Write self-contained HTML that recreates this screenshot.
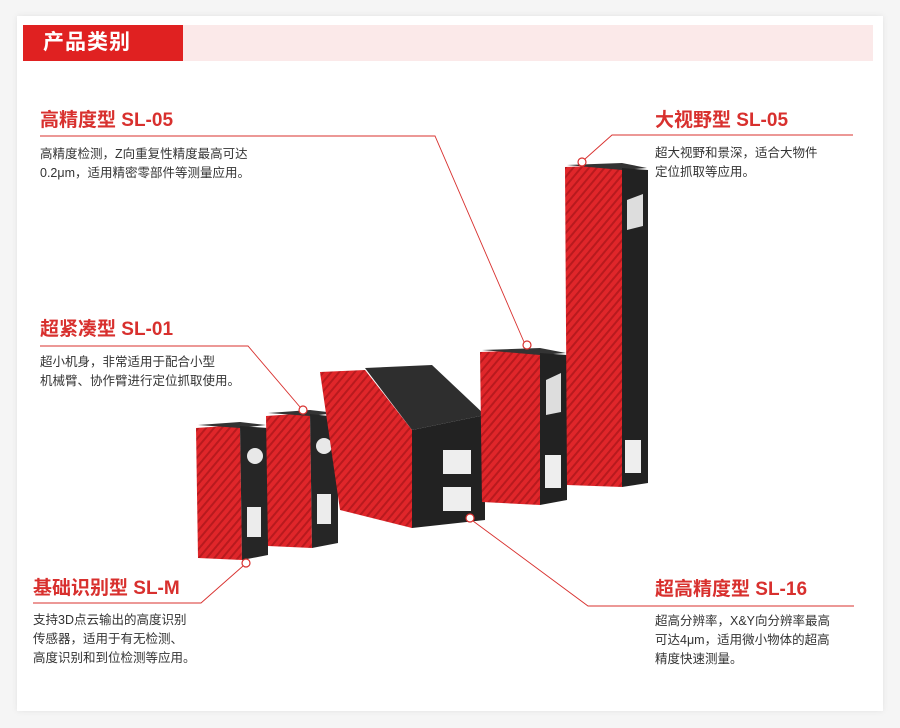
<!DOCTYPE html>
<html><head><meta charset="utf-8"><style>
body{margin:0;width:900px;height:728px;background:#f5f5f5;position:relative;overflow:hidden;font-family:"Liberation Sans","Noto Sans CJK SC",sans-serif}
.card{position:absolute;left:17px;top:16px;width:866px;height:695px;background:#fff;box-shadow:0 0 6px rgba(0,0,0,.08)}
.hdr{position:absolute;left:23px;top:25px;width:850px;height:36px;background:#fbe9e9}
.hdr div{position:absolute;left:0;top:0;width:160px;height:36px;background:#e02121;color:#fff;font-size:21px;font-weight:bold;line-height:36px;padding-left:20px;box-sizing:border-box;letter-spacing:1px}
.t{position:absolute;color:#d8302e;font-size:19px;font-weight:bold;line-height:24px;white-space:nowrap}
.d{position:absolute;color:#333;font-size:12.5px;line-height:19px;white-space:nowrap}
svg{position:absolute;left:0;top:0}
</style></head><body>
<div class="card"></div>
<div class="hdr"><div>产品类别</div></div>
<svg width="900" height="728">
<defs><pattern id="st" width="6" height="6" patternUnits="userSpaceOnUse" patternTransform="rotate(40)"><rect width="6" height="6" fill="#e0262a"/><rect width="2" height="6" fill="#b81a1e"/></pattern></defs>
<!-- device 1 -->
<polygon points="196,428 240,425 242,560 198,558" fill="url(#st)"/>
<polygon points="198,425 240,422 266,425 240,428" fill="#333"/>
<polygon points="240,426 268,428 268,555 242,560" fill="#262626"/>
<circle cx="255" cy="456" r="8" fill="#e8e8e8"/><rect x="247" y="507" width="14" height="30" fill="#ececec"/>
<!-- device 2 -->
<polygon points="266,416 310,413 312,548 268,546" fill="url(#st)"/>
<polygon points="268,413 310,410 336,413 310,416" fill="#333"/>
<polygon points="310,414 338,417 338,543 312,548" fill="#262626"/>
<circle cx="324" cy="446" r="8" fill="#e8e8e8"/><rect x="317" y="494" width="14" height="30" fill="#ececec"/>
<!-- device 3 -->
<polygon points="320,372 365,370 412,430 412,528 340,510" fill="url(#st)"/>
<polygon points="365,368 432,365 485,415 412,430" fill="#2e2e2e"/>
<polygon points="412,430 485,415 485,520 412,528" fill="#222"/>
<rect x="443" y="450" width="28" height="24" fill="#eee"/><rect x="443" y="487" width="28" height="24" fill="#eee"/>
<!-- device 4 -->
<polygon points="480,352 540,350 540,505 482,502" fill="url(#st)"/>
<polygon points="482,350 540,348 566,353 540,355" fill="#333"/>
<polygon points="540,353 567,355 567,500 540,505" fill="#222"/>
<polygon points="546,380 561,373 561,412 546,415" fill="#ddd"/><rect x="545" y="455" width="16" height="33" fill="#eee"/>
<!-- device 5 -->
<polygon points="565,167 622,165 622,487 567,485" fill="url(#st)"/>
<polygon points="567,165 622,163 647,168 622,170" fill="#333"/>
<polygon points="622,168 648,170 648,483 622,487" fill="#222"/>
<polygon points="627,200 643,194 643,226 627,230" fill="#ddd"/><rect x="625" y="440" width="16" height="33" fill="#eee"/>
<!-- connectors -->
<g stroke="#d8302e" stroke-width="0.9" fill="none">
<polyline points="40,136 435,136 524,342"/>
<polyline points="853,135 612,135 585,159"/>
<polyline points="40,346 248,346 300,407"/>
<polyline points="33,603 201,603 243,566"/>
<polyline points="854,606 588,606 473,521"/>
</g>
<g stroke="#d8302e" stroke-width="1.2" fill="#fff">
<circle cx="527" cy="345" r="4"/><circle cx="582" cy="162" r="4"/><circle cx="303" cy="410" r="4"/><circle cx="246" cy="563" r="4"/><circle cx="470" cy="518" r="4"/>
</g>
</svg>
<div class="t" style="left:40px;top:109px">高精度型 SL-05</div>
<div class="d" style="left:40px;top:145px">高精度检测，Z向重复性精度最高可达<br>0.2μm，适用精密零部件等测量应用。</div>
<div class="t" style="left:655px;top:109px">大视野型 SL-05</div>
<div class="d" style="left:655px;top:144px">超大视野和景深，适合大物件<br>定位抓取等应用。</div>
<div class="t" style="left:40px;top:318px">超紧凑型 SL-01</div>
<div class="d" style="left:40px;top:353px">超小机身，非常适用于配合小型<br>机械臂、协作臂进行定位抓取使用。</div>
<div class="t" style="left:33px;top:577px">基础识别型 SL-M</div>
<div class="d" style="left:33px;top:611px">支持3D点云输出的高度识别<br>传感器，适用于有无检测、<br>高度识别和到位检测等应用。</div>
<div class="t" style="left:655px;top:578px">超高精度型 SL-16</div>
<div class="d" style="left:655px;top:612px">超高分辨率，X&amp;Y向分辨率最高<br>可达4μm，适用微小物体的超高<br>精度快速测量。</div>
</body></html>
